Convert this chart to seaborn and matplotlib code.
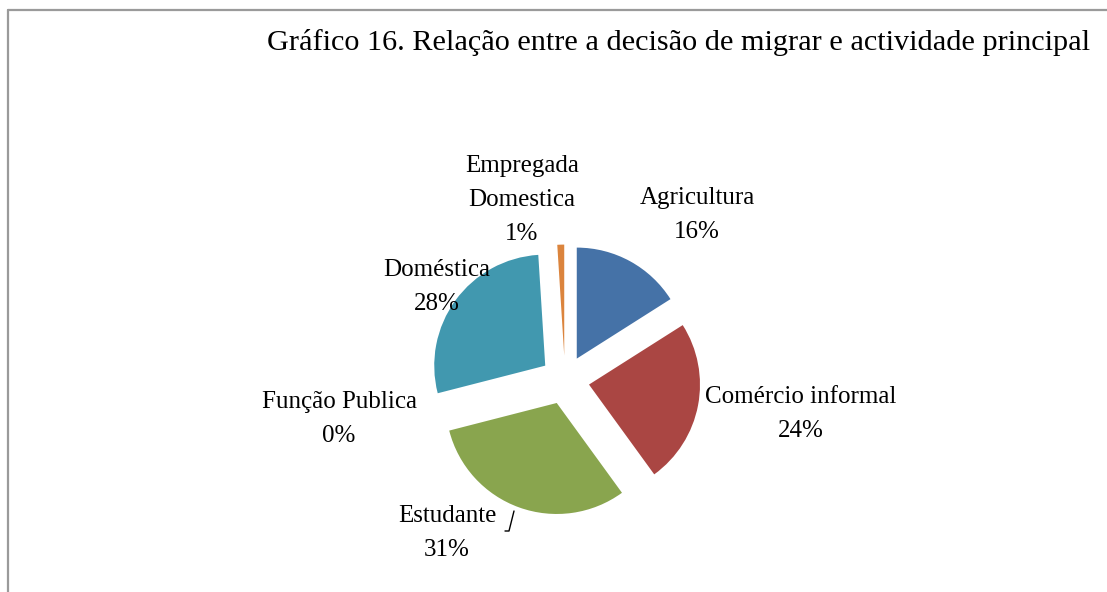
import matplotlib
matplotlib.use("Agg")
import matplotlib.pyplot as plt
from matplotlib.lines import Line2D
import seaborn as sns

categories = ["Agricultura", "Comércio informal", "Estudante", "Função Publica",
              "Doméstica", "Empregada\nDomestica"]
values = [16, 24, 31, 0, 28, 1]
colors = ["#4572A7", "#AA4643", "#89A54E", "#71588F", "#4198AF", "#DB843D"]
title = "Gráfico 16. Relação entre a decisão de migrar e actividade principal"

sns.set_theme(style="white")
plt.rcParams["font.family"] = ["Liberation Serif", "DejaVu Serif"]

W, H, DPI = 1107, 592, 100
fig = plt.figure(figsize=(W / DPI, H / DPI), dpi=DPI)
fig.patch.set_facecolor("white")
ax = fig.add_axes([0, 0, 1, 1])

# pixel geometry of the pie
cx, cy, R = 565, 380, 111
def px2d(px, py):
    return ((px - cx) / R, (cy - py) / R)

total = sum(values)
labels = [f"{c}\n{round(v / total * 100):.0f}%" for c, v in zip(categories, values)]

wedges, texts = ax.pie(values, colors=colors, startangle=90, counterclock=False,
                       explode=[0.22] * len(values), radius=1,
                       labels=labels, labeldistance=1.5,
                       wedgeprops=dict(linewidth=0),
                       textprops=dict(fontsize=18, color="black"))

label_pos = [(697, 215), (801, 414), (447, 533), (339, 419), (437, 287), (522, 200)]
for t, (px, py) in zip(texts, label_pos):
    t.set_position(px2d(px, py))
    t.set_ha("center")
    t.set_va("center")
    t.set_multialignment("center")
    t.set_linespacing(1.72)

# leader line for Estudante
lx, ly = zip(px2d(505, 531), px2d(509, 531), px2d(514, 511))
ax.plot(lx, ly, color="black", lw=1)

ax.set_xlim(-cx / R, (W - cx) / R)
ax.set_ylim(-(H - cy) / R, cy / R)
ax.set_aspect("equal", adjustable="box")
ax.axis("off")

fig.text(1090 / W, 1 - 43 / H, title, ha="right", va="center", fontsize=21.8,
         color="black")

# chart frame
fig.add_artist(Line2D([8 / W, 1.0], [1 - 10 / H, 1 - 10 / H], color="#9a9a9a", lw=1.6,
                      transform=fig.transFigure))
fig.add_artist(Line2D([8 / W, 8 / W], [1 - 10 / H, 0], color="#9a9a9a", lw=1.6,
                      transform=fig.transFigure))

fig.savefig("out.png", dpi=DPI)
